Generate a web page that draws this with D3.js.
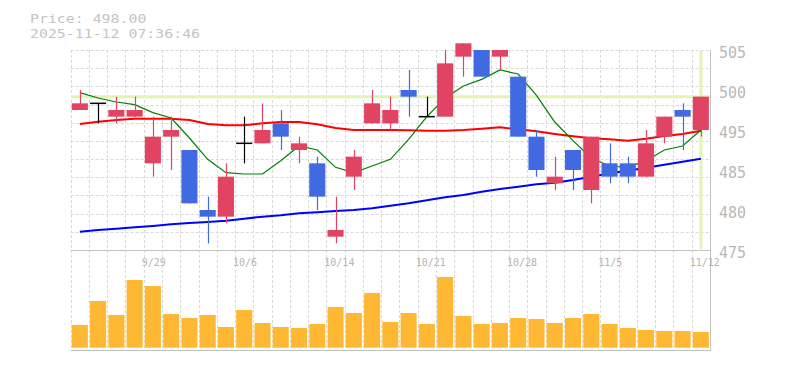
<!DOCTYPE html>
<html>
<head>
<meta charset="utf-8">
<script src="https://cdn.jsdelivr.net/npm/d3@7"></script>
<style>
  body { margin: 0; background: #fff; }
  text { font-family: "DejaVu Sans Mono", "Liberation Mono", monospace; }
</style>
</head>
<body>
<div id="app"></div>
<script>
// data
const dates = ['9/22','9/24','9/25','9/26','9/29','9/30','10/1','10/2','10/3','10/6',
  '10/7','10/8','10/9','10/10','10/14','10/15','10/16','10/17','10/20','10/21',
  '10/22','10/23','10/24','10/27','10/28','10/29','10/30','10/31','11/4','11/5',
  '11/6','11/7','11/10','11/11','11/12'];
const open  = [496,497,495,495,488,492,490,481,480,491,491,494,490,488,477,486,494,494,499,495,
  495,504,505,504,501,492,485,490,484,488,488,486,492,496,493];
const high  = [499,497,498,498,495,495,490,483,488,495,497,496,492,489,483,490,499,498,502,498,
  505,506,505,505,501,493,489,490,492,491,489,493,495,497,498];
const low   = [496,494,494,495,486,487,482,476,479,488,491,490,488,481,476,484,494,493,495,495,
  495,501,501,502,492,486,484,484,482,485,485,486,491,490,492];
const close = [497,497,496,496,492,493,482,480,486,491,493,492,491,483,478,489,497,496,498,495,
  503,506,501,505,492,487,486,487,492,486,486,491,495,495,498];
const volume = [22700,46700,32700,67700,61700,33700,29700,32700,20700,37700,
  24700,20700,19700,23700,40700,34700,54700,25700,34700,23700,
  70700,31700,23700,24700,29700,28700,24700,29700,33700,23700,
  19700,17700,16700,16700,15700];
const ma5  = [498.6,497.8,497.2,496.8,495.6,494.8,491.8,488.6,486.6,486.4,486.4,488.4,490.6,490.0,487.4,
  486.6,487.6,488.6,491.6,495.0,497.8,499.6,500.6,502.0,501.4,498.2,494.2,491.4,488.8,487.6,
  487.4,488.4,490.0,490.6,493.0];
const ma25 = [493.9,494.25,494.5,494.7,494.7,494.7,494.5,493.9,493.7,493.7,494.0,494.2,494.2,493.85,493.3,
  493.0,493.0,493.0,492.95,492.9,492.9,493.0,493.2,493.4,493.1,492.8,492.4,492.05,491.75,491.6,
  491.4,491.7,492.1,492.4,492.9];
const ma75 = [477.75,478.0,478.2,478.4,478.6,478.85,479.05,479.2,479.4,479.7,480.0,480.2,480.5,480.65,480.85,
  481.0,481.25,481.65,482.0,482.45,482.9,483.25,483.75,484.15,484.5,484.85,485.1,485.5,486.0,486.5,
  486.9,487.35,487.8,488.25,488.7];
const xTickLabels = ['9/29','10/6','10/14','10/21','10/28','11/5','11/12'];
const yTickLabels = ['505','500','495','485','480','475'];
const lastPrice = 498;
const headerLines = ['Price: 498.00', '2025-11-12 07:36:46'];

const candles = dates.map((d, i) => ({
  date: d, open: open[i], high: high[i], low: low[i], close: close[i], volume: volume[i]
}));

const width = 785, height = 370;
const plotLeft = 70.7, plotRight = 710;
const priceTop = 50, priceBottom = 250, volBottom = 350;

const svg = d3.select('#app').append('svg')
  .attr('width', width)
  .attr('height', height);

const x = d3.scaleBand()
  .domain(dates)
  .range([plotLeft, plotRight])
  .paddingInner(0.12)
  .paddingOuter(0.06);
const y = d3.scaleLinear().domain([475, 505]).range([priceBottom, priceTop]);
const vy = d3.scaleLinear().domain([0, 100000]).range([347.7, 247.7]);
const yLabelPos = d3.scalePoint().domain(yTickLabels).range([52.4, 252.4]);

const cx = d => x(d) + x.bandwidth() / 2;
const gridColor = '#d9d9d9';
const frameColor = '#c2c2c2';
const upColor = '#e04462';
const downColor = '#4169e1';

// grid
const grid = svg.append('g').attr('stroke', gridColor).attr('stroke-dasharray', '3,2');
grid.selectAll('line.h')
  .data(d3.range(0, 11))
  .join('line')
  .attr('class', 'h')
  .attr('x1', plotLeft).attr('x2', plotRight)
  .attr('y1', k => Math.round(y(475 + (k + 1) * 30 / 11)) + 0.5)
  .attr('y2', k => Math.round(y(475 + (k + 1) * 30 / 11)) + 0.5);
grid.selectAll('line.v')
  .data(dates)
  .join('line')
  .attr('class', 'v')
  .attr('x1', d => Math.round(x(d) - x.step() * 0.06) + 0.5)
  .attr('x2', d => Math.round(x(d) - x.step() * 0.06) + 0.5)
  .attr('y1', priceTop).attr('y2', volBottom);

// frame
svg.append('line').attr('x1', plotLeft).attr('x2', plotRight + 1)
  .attr('y1', priceBottom + 0.5).attr('y2', priceBottom + 0.5).attr('stroke', frameColor);
svg.append('line').attr('x1', plotLeft).attr('x2', plotRight + 1)
  .attr('y1', volBottom + 0.5).attr('y2', volBottom + 0.5).attr('stroke', frameColor);
svg.append('line').attr('x1', plotRight + 0.5).attr('x2', plotRight + 0.5)
  .attr('y1', priceTop).attr('y2', volBottom + 1).attr('stroke', frameColor);

// current price markers
const markColor = '#e3f4b1';
svg.append('line')
  .attr('x1', plotLeft).attr('x2', plotRight)
  .attr('y1', y(lastPrice)).attr('y2', y(lastPrice))
  .attr('stroke', markColor).attr('stroke-width', 3);
svg.append('line')
  .attr('x1', cx(dates[dates.length - 1])).attr('x2', cx(dates[dates.length - 1]))
  .attr('y1', priceTop + 1).attr('y2', priceBottom - 1)
  .attr('stroke', markColor).attr('stroke-width', 3);

// volume
svg.append('g')
  .selectAll('rect')
  .data(candles)
  .join('rect')
  .attr('x', d => x(d.date))
  .attr('width', x.bandwidth())
  .attr('y', d => vy(d.volume))
  .attr('height', d => vy(0) - vy(d.volume))
  .attr('fill', '#ffb833');

// moving averages
const maLine = vals => d3.line()
  .x((v, i) => cx(dates[i]))
  .y(v => y(v))(vals);
[
  { vals: ma75, color: '#0000ff', w: 2 },
  { vals: ma25, color: '#ff0000', w: 2 },
  { vals: ma5, color: '#008000', w: 1.2 }
].forEach(s => {
  svg.append('path')
    .attr('d', maLine(s.vals))
    .attr('fill', 'none')
    .attr('stroke', s.color)
    .attr('stroke-width', s.w);
});

// candles
const colorOf = d => d.close > d.open ? upColor : d.close < d.open ? downColor : '#000';
const cg = svg.append('g')
  .selectAll('g')
  .data(candles)
  .join('g');
cg.append('line')
  .attr('x1', d => Math.round(cx(d.date)) + 0.5)
  .attr('x2', d => Math.round(cx(d.date)) + 0.5)
  .attr('y1', d => y(d.high))
  .attr('y2', d => y(d.low))
  .attr('stroke', colorOf)
  .attr('stroke-width', 1.2);
cg.filter(d => d.close !== d.open)
  .append('rect')
  .attr('x', d => x(d.date))
  .attr('width', x.bandwidth())
  .attr('y', d => y(Math.max(d.open, d.close)))
  .attr('height', d => Math.abs(y(d.open) - y(d.close)))
  .attr('fill', colorOf);
cg.filter(d => d.close === d.open)
  .append('line')
  .attr('x1', d => x(d.date))
  .attr('x2', d => x(d.date) + x.bandwidth())
  .attr('y1', d => y(d.open))
  .attr('y2', d => y(d.open))
  .attr('stroke', '#000')
  .attr('stroke-width', 1.5);

// y labels
const yAxis = svg.append('g')
  .attr('transform', `translate(${plotRight},0)`)
  .call(d3.axisRight(yLabelPos).tickSize(0).tickPadding(9));
yAxis.select('.domain').remove();
yAxis.selectAll('text')
  .attr('font-family', '"DejaVu Sans Mono", monospace')
  .attr('font-size', 15)
  .attr('fill', '#b8b8b8');

// x labels
svg.append('g')
  .selectAll('text')
  .data(xTickLabels)
  .join('text')
  .attr('x', d => x(d) - 3.2)
  .attr('y', 266)
  .attr('font-size', 10)
  .attr('fill', '#b4b4b4')
  .text(d => d);

// header (slightly smaller font, stretched to the reference width so the lines don't collide)
svg.append('g')
  .selectAll('text')
  .data(headerLines)
  .join('text')
  .attr('x', 30)
  .attr('y', (d, i) => 23 + i * 15)
  .attr('font-size', 12.8)
  .attr('textLength', d => d.length * 8.95)
  .attr('lengthAdjust', 'spacingAndGlyphs')
  .attr('fill', '#c4c4c4')
  .text(d => d);
</script>
</body>
</html>
